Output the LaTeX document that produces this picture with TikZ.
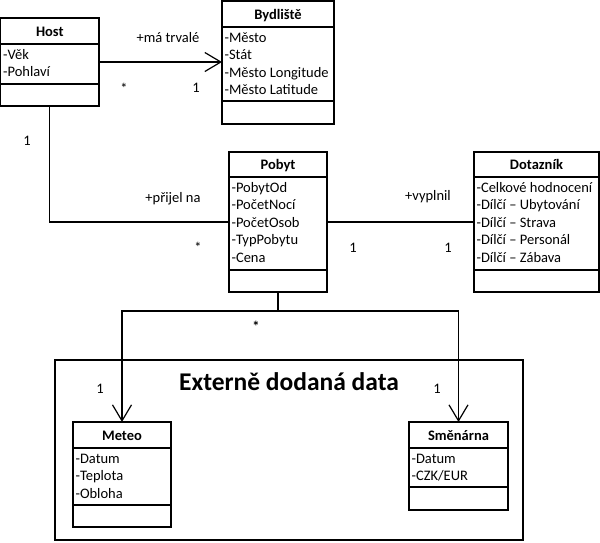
\documentclass[tikz,border=0pt]{standalone}
\usepackage{fontspec}
\setmainfont{Carlito}
\usetikzlibrary{arrows.meta}
\newcommand\umlclass[9]{% name, left, top, right, header line, attr line, bottom, title, attributes
  \pgfmathsetmacro\uw{#4-#2}\pgfmathsetmacro\uh{#7-#3}
  \node[box, minimum width=\uw pt, minimum height=\uh pt] (#1) at (#2,#3) {};
  \draw (#1.west |- 0,#5) -- (#1.east |- 0,#5);
  \draw (#1.west |- 0,#6) -- (#1.east |- 0,#6);
  \pgfmathsetmacro\ux{(#2+#4)/2}\pgfmathsetmacro\uy{(#3+#5)/2+5}
  \node[ttl] (#1-title) at (\ux,\uy) {#8};
  \foreach \t [count=\i] in {#9} {
    \node[attr] (#1-a\i) at ({#2+2},{#5+15+(\i-1)*17.6}) {\t};
  }
}
\begin{document}
\begin{tikzpicture}[x=1pt,y=-1pt, line width=1.2pt,
  box/.style={draw, rectangle, inner sep=0pt, outer sep=0pt, anchor=north west},
  ttl/.style={font=\bfseries\fontsize{14.5}{17}\selectfont, anchor=base, inner sep=0pt},
  attr/.style={font=\fontsize{14.5}{17}\selectfont, anchor=base west, inner sep=0pt},
  lbl/.style={font=\fontsize{14.5}{17}\selectfont, anchor=base, inner sep=0pt},
  arr/.style={-{Straight Barb[length=16pt,width=19pt,line width=1.2pt]}}]
\useasboundingbox (0,0) rectangle (600,542);

% outer package box
\node[box, minimum width=468pt, minimum height=180pt] (ext) at (55,360) {};
\node[font=\bfseries\fontsize{25.5}{30}\selectfont, anchor=base, inner sep=0pt] (exttitle) at (289,390) {Externě dodaná data};

\umlclass{host}{0.6}{18}{99}{44}{84}{106}{Host}{-Věk,-Pohlaví}
\umlclass{byd}{222}{1}{334}{27}{101}{124}{Bydliště}{-Město,-Stát,-Město Longitude,-Město Latitude}
\umlclass{pobyt}{229}{152}{327}{177}{270}{292}{Pobyt}{-PobytOd,-PočetNocí,-PočetOsob,-TypPobytu,-Cena}
\umlclass{dot}{474}{152}{599}{177}{270}{292}{Dotazník}{-Celkové hodnocení,-Dílčí – Ubytování,-Dílčí – Strava,-Dílčí – Personál,-Dílčí – Zábava}
\umlclass{meteo}{73}{422}{171}{448}{505}{527}{Meteo}{-Datum,-Teplota,-Obloha}
\umlclass{smen}{409}{422}{508}{448}{487}{510}{Směnárna}{-Datum,-CZK/EUR}

% connectors
\draw[arr] (host.east) -- (host.east -| byd.west);
\draw (host.south) |- (pobyt.west);
\draw (pobyt.east) -- (dot.west);
\coordinate (j) at (pobyt.south |- 0,311);
\draw (pobyt.south) -- (j);
\draw[arr] (j) -| (meteo.north);
\draw[arr] (j) -| (smen.north);

% labels
\node[lbl] (l1) at (168,42) {+má trvalé};
\node[lbl] (l2) at (124,93) {*};
\node[lbl] (l3) at (196,92) {1};
\node[lbl] (l4) at (27,145) {1};
\node[lbl] (l5) at (173,202) {+přijel na};
\node[lbl] (l6) at (198,252) {*};
\node[lbl] (l7) at (428,200) {+vyplnil};
\node[lbl] (l8) at (353,252) {1};
\node[lbl] (l9) at (448,252) {1};
\node[lbl] (l10) at (256,331) {\textbf{*}};
\node[lbl] (l11) at (100,393) {1};
\node[lbl] (l12) at (437,393) {1};
\end{tikzpicture}
\end{document}
